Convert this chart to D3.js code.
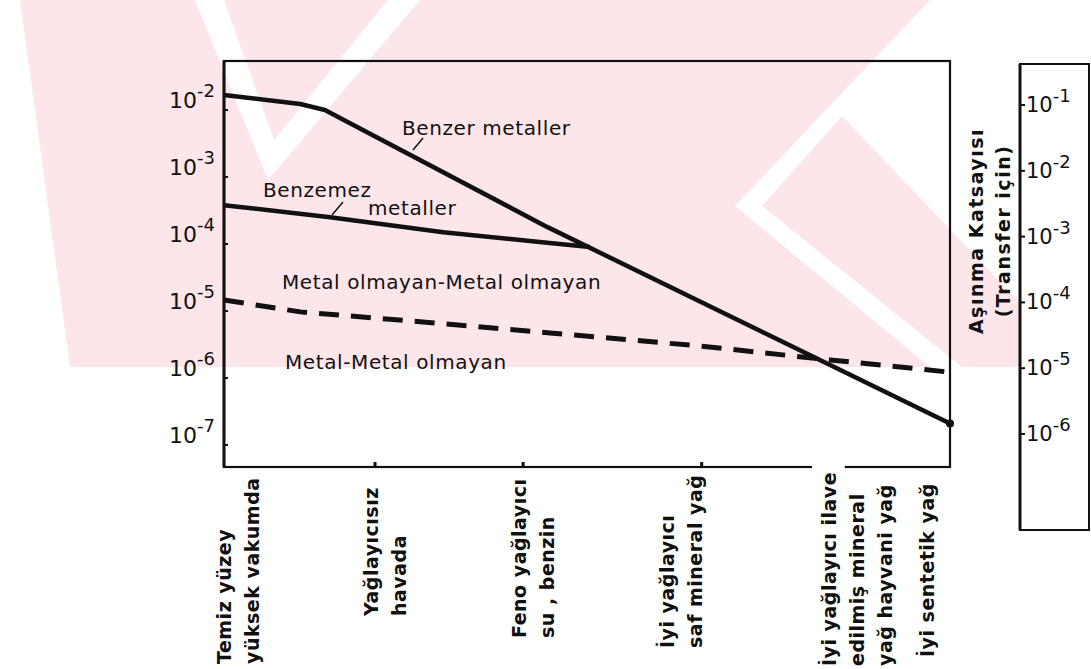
<!DOCTYPE html>
<meta charset="utf-8">
<script src="https://d3js.org/d3.v7.min.js"></script>
<style>
  body { margin: 0; background: #fff; }
  text { font-family: "DejaVu Sans", sans-serif; fill: #111; }
</style>
<div id="chart"></div>
<script>
// lubrication conditions along the bottom (condition index 0..10)
var conditionPos = [0, 2.08, 4.12, 6.58];
var conditionLabels = [
  ["Temiz yüzey", "yüksek vakumda"],
  ["Yağlayıcısız", "havada"],
  ["Feno yağlayıcı", "su , benzin"],
  ["İyi yağlayıcı", "saf mineral yağ"],
  ["İyi yağlayıcı ilave", "edilmiş mineral", "yağ hayvani yağ"],
  ["İyi sentetik yağ"]
];
var labelPos = [0, 2.03, 4.07, 6.1, 8.34, 9.68];

// wear coefficient, left scale (decades) and right scale (transfer)
var leftTicks = [1e-2, 1e-3, 1e-4, 1e-5, 1e-6, 1e-7];
var rightTicks = [1e-1, 1e-2, 1e-3, 1e-4, 1e-5, 1e-6];

// curves: [condition, wear coefficient]
var benzer = [[0, 1.67e-2], [1.05, 1.23e-2], [1.39, 1.0e-2], [1.67, 6.9e-3], [4.45, 1.8e-4], [10, 2.1e-7]];
var benzemez = [[0, 3.8e-4], [1.46, 2.5e-4], [3.02, 1.5e-4], [4.45, 1.04e-4], [5.04, 9.0e-5]];
var metalNon = [[0, 1.46e-5], [1.05, 9.7e-6], [2.7, 6.9e-6], [4.49, 4.7e-6], [6.56, 3.0e-6], [8.35, 1.86e-6], [9.97, 1.23e-6]];

var W = 1091, H = 669;
var plot = {left: 224, right: 950, top: 61, bottom: 467};

var svg = d3.select("#chart").append("svg")
    .attr("width", W).attr("height", H);

// faint scanned watermark behind the figure
var wm = svg.append("g");
wm.append("path")
    .attr("d", "M20,0 L1022,0 L1022,367 L70,367 Z")
    .attr("fill", "#fde6e9");
[
  "M195,0 L224,0 L274,140 L388,0 L420,0 L268,180 Z",
  "M735,206 L930,0 L1022,0 L1022,305 L842,116 L762,206 L962,367 L930,367 Z",
  "M20,70 L62,367 L20,367 Z"
].forEach(function(p) { wm.append("path").attr("d", p).attr("fill", "#fff"); });

var x = d3.scaleLinear().domain([0, 10]).range([plot.left, plot.right]);
var y = d3.scaleLog().domain([1e-2, 1e-7]).range([110, 445]);
var y2 = d3.scaleLog().domain([1e-1, 1e-6]).range([105, 434]);

// plot frame
svg.append("rect")
    .attr("x", plot.left).attr("y", plot.top)
    .attr("width", plot.right - plot.left).attr("height", plot.bottom - plot.top)
    .attr("fill", "none").attr("stroke", "#111").attr("stroke-width", 2.2);
svg.append("line")
    .attr("x1", plot.left).attr("x2", plot.left)
    .attr("y1", plot.top).attr("y2", plot.bottom)
    .attr("stroke", "#111").attr("stroke-width", 3);

// left axis: ticks inward, labels 10^-n
var yAxis = svg.append("g").attr("transform", "translate(" + plot.left + ",0)");
yAxis.selectAll("line.tk").data(leftTicks).enter().append("line")
    .attr("x1", 0).attr("x2", 4)
    .attr("y1", function(d) { return y(d); }).attr("y2", function(d) { return y(d); })
    .attr("stroke", "#111").attr("stroke-width", 2);
var lt = yAxis.selectAll("text").data(leftTicks).enter().append("text")
    .attr("x", -9).attr("y", function(d) { return y(d) - 10; })
    .attr("text-anchor", "end").attr("dominant-baseline", "central")
    .style("font-size", "22px");
lt.append("tspan").text("10");
lt.append("tspan").attr("dy", -10).style("font-size", "18px")
    .text(function(d) { return "-" + Math.round(-Math.log10(d)); });

// bottom axis ticks
svg.selectAll("line.xt").data(conditionPos.slice(1)).enter().append("line")
    .attr("x1", function(d) { return x(d); }).attr("x2", function(d) { return x(d); })
    .attr("y1", plot.bottom).attr("y2", plot.bottom - 5)
    .attr("stroke", "#111").attr("stroke-width", 3);
// small gap in the bottom line under the 5th label
svg.append("line")
    .attr("x1", x(8.1)).attr("x2", x(8.55))
    .attr("y1", plot.bottom).attr("y2", plot.bottom)
    .attr("stroke", "#fff").attr("stroke-width", 4);

// rotated category labels
var labelStart = [664, 616, 638, 648, 666, 657];
conditionLabels.forEach(function(lines, i) {
  lines.forEach(function(s, j) {
    var cx = x(labelPos[i]) + j * 28;
    svg.append("text")
        .attr("transform", "translate(" + cx + "," + labelStart[i] + ") rotate(-90)")
        .attr("dominant-baseline", "central")
        .style("font-size", "19px").style("font-weight", "bold")
        .style("letter-spacing", "0.5px")
        .text(s);
  });
});

// curves
var line = d3.line()
    .x(function(d) { return x(d[0]); })
    .y(function(d) { return y(d[1]); });
svg.append("path").datum(benzer).attr("d", line)
    .attr("fill", "none").attr("stroke", "#111").attr("stroke-width", 4.5)
    .attr("stroke-linejoin", "round");
svg.append("path").datum(benzemez).attr("d", line)
    .attr("fill", "none").attr("stroke", "#111").attr("stroke-width", 4.5)
    .attr("stroke-linejoin", "round");
svg.append("path").datum(metalNon).attr("d", line)
    .attr("fill", "none").attr("stroke", "#111").attr("stroke-width", 5)
    .attr("stroke-dasharray", "20,12");
svg.append("circle").attr("cx", x(10)).attr("cy", y(2.1e-7)).attr("r", 4).attr("fill", "#111");

// annotations
function note(tx, ty, s) {
  svg.append("text").attr("x", tx).attr("y", ty)
      .attr("dominant-baseline", "central")
      .style("font-size", "20px").style("letter-spacing", "0.6px").text(s);
}
note(402, 128, "Benzer metaller");
note(263, 190, "Benzemez");
note(368, 208, "metaller");
note(282, 282, "Metal olmayan-Metal olmayan");
note(285, 362, "Metal-Metal olmayan");
svg.append("line").attr("x1", 423).attr("y1", 138).attr("x2", 413).attr("y2", 150)
    .attr("stroke", "#111").attr("stroke-width", 1.5);
svg.append("line").attr("x1", 343).attr("y1", 202).attr("x2", 332).attr("y2", 215)
    .attr("stroke", "#111").attr("stroke-width", 1.5);

// right side scale box
var box = {left: 1020, right: 1089, top: 64, bottom: 530};
svg.append("rect")
    .attr("x", box.left).attr("y", box.top)
    .attr("width", box.right - box.left).attr("height", box.bottom - box.top)
    .attr("fill", "#fff").attr("stroke", "#111").attr("stroke-width", 2);
svg.append("line").attr("x1", box.left).attr("x2", box.left)
    .attr("y1", box.top).attr("y2", box.bottom)
    .attr("stroke", "#111").attr("stroke-width", 3);
var rAxis = svg.append("g").attr("transform", "translate(" + box.left + ",0)");
rAxis.selectAll("line").data(rightTicks).enter().append("line")
    .attr("x1", 0).attr("x2", 5)
    .attr("y1", function(d) { return y2(d); }).attr("y2", function(d) { return y2(d); })
    .attr("stroke", "#111").attr("stroke-width", 2);
var rt = rAxis.selectAll("text").data(rightTicks).enter().append("text")
    .attr("x", 6).attr("y", function(d) { return y2(d); })
    .attr("dominant-baseline", "central")
    .style("font-size", "21px");
rt.append("tspan").text("10");
rt.append("tspan").attr("dy", -10).style("font-size", "18px")
    .text(function(d) { return "-" + Math.round(-Math.log10(d)); });

svg.append("text")
    .attr("transform", "translate(976,231) rotate(-90)")
    .attr("text-anchor", "middle").attr("dominant-baseline", "central")
    .style("font-size", "19px").style("font-weight", "bold").style("letter-spacing", "1.5px")
    .text("Aşınma Katsayısı");
svg.append("text")
    .attr("transform", "translate(1003,231) rotate(-90)")
    .attr("text-anchor", "middle").attr("dominant-baseline", "central")
    .style("font-size", "19px").style("font-weight", "bold").style("letter-spacing", "1.5px")
    .text("(Transfer için)");
</script>
